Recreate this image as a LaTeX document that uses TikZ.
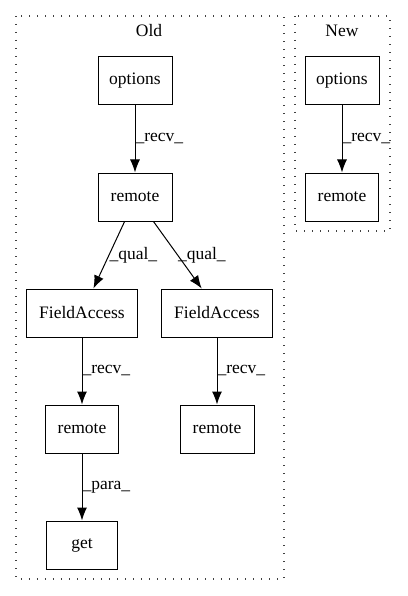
\documentclass[tikz,border=0pt]{standalone}
\usepackage{fontspec}
\setmainfont{Liberation Serif}
\usetikzlibrary{arrows.meta}
\tikzset{
  box/.style={draw, line width=1pt, minimum height=48pt, inner sep=4pt, font=\fontsize{17.5}{20}\selectfont},
  edge/.style={line width=1pt, -{Latex[length=13pt,width=10pt]}},
  elabel/.style={right, inner sep=0pt, font=\fontsize{17.5}{20}\selectfont},
  cluster/.style={line width=1.4pt, dash pattern=on 1.4pt off 6.6pt, black!75}
}
\begin{document}
\begin{tikzpicture}[x=1pt,y=-1pt]
\useasboundingbox (0,0) rectangle (407,596);
\draw[cluster] (16,16) rectangle (284,579); % Old
\draw[cluster] (295,16) rectangle (390,231); % New
\node[font=\fontsize{17.5}{20}\selectfont] (oldtitle) at (149,31) {Old};
\node[font=\fontsize{17.5}{20}\selectfont] (newtitle) at (342,31) {New};
% Old
\node[box, minimum width=74pt] (options1) at (135,81) {options};
\node[box, minimum width=74pt] (remote1) at (135,197) {remote};
\node[box, minimum width=111pt] (field1) at (82,313) {FieldAccess};
\node[box, minimum width=111pt] (field2) at (217,313) {FieldAccess};
\node[box, minimum width=73pt] (remote2) at (82,429) {remote};
\node[box, minimum width=74pt] (remote3) at (217,429) {remote};
\node[box, minimum width=71pt] (get1) at (82,545) {get};
% New
\node[box, minimum width=74pt] (options2) at (342,81) {options};
\node[box, minimum width=73pt] (remote4) at (342,197) {remote};
\draw[edge] (options1) -- (remote1) node[elabel, pos=0.5] {\_recv\_};
\draw[edge] (remote1.-113) -- (field1.65) node[elabel, pos=0.5] {\_qual\_};
\draw[edge] (remote1.-53) -- (field2.122) node[elabel, pos=0.5] {\_qual\_};
\draw[edge] (field1) -- (remote2) node[elabel, pos=0.5] {\_recv\_};
\draw[edge] (field2) -- (remote3) node[elabel, pos=0.5] {\_recv\_};
\draw[edge] (remote2) -- (get1) node[elabel, pos=0.5] {\_para\_};
\draw[edge] (options2) -- (remote4) node[elabel, pos=0.5] {\_recv\_};
\end{tikzpicture}
\end{document}
